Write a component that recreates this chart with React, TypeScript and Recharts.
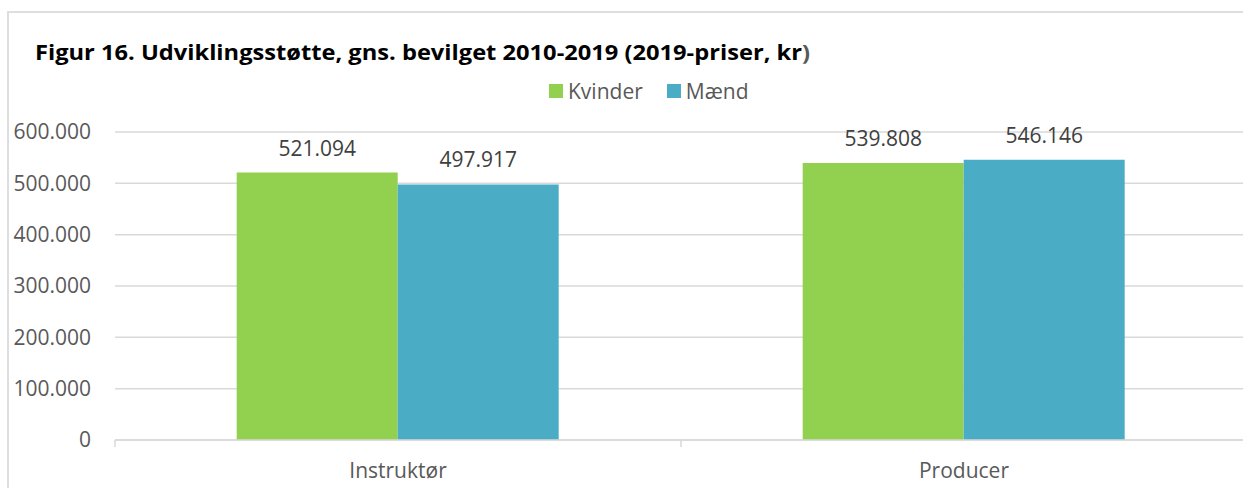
import React from "react";
import { BarChart, Bar, XAxis, YAxis, CartesianGrid, LabelList } from "recharts";

const categories = ["Instruktør", "Producer"];
const kvinder = [521094, 539808];
const maend = [497917, 546146];
const yTicks = [0, 100000, 200000, 300000, 400000, 500000, 600000];

const seriesNames = ["Kvinder", "Mænd"];
const seriesColors = ["#92D050", "#4BACC6"];

const data = categories.map((c, i) => ({ name: c, kvinder: kvinder[i], maend: maend[i] }));

const FONT = "'Open Sans', sans-serif";

const fmt = (v: any) => String(v).replace(/\B(?=(\d{3})+(?!\d))/g, ".");

function CatTick(props: any) {
  const { x, y, payload, width, visibleTicksCount, index } = props;
  const half = width && visibleTicksCount ? width / visibleTicksCount / 2 : payload.offset || 0;
  const lineY = y - 8;
  return (
    <g>
      <line x1={x - half} x2={x - half} y1={lineY} y2={lineY + 7} stroke="#d9d9d9" strokeWidth={1.5} />
      {index === visibleTicksCount - 1 && (
        <line x1={x + half} x2={x + half} y1={lineY} y2={lineY + 7} stroke="#d9d9d9" strokeWidth={1.5} />
      )}
      <text x={x} y={y + 30} textAnchor="middle" fill="#595959" fontSize={21} fontFamily={FONT}>
        {payload.value}
      </text>
    </g>
  );
}

export default function App() {
  return (
    <div
      style={{
        position: "absolute",
        left: 0,
        top: 0,
        width: 1243,
        height: 488,
        overflow: "hidden",
        background: "#fff",
        fontFamily: FONT,
      }}
    >
      <div
        style={{
          position: "absolute",
          left: 7,
          top: 11,
          width: 1300,
          height: 600,
          border: "2px solid #dedede",
        }}
      />
      <svg width={1243} height={80} style={{ position: "absolute", left: 0, top: 0 }}>
        <text
          x={35}
          y={60}
          fontSize={22}
          fontWeight={700}
          fontFamily={FONT}
          fill="#000"
          textLength={775}
          lengthAdjust="spacingAndGlyphs"
        >
          Figur 16. Udviklingsstøtte, gns. bevilget 2010-2019 (2019-priser, kr<tspan fill="#595959">)</tspan>
        </text>
      </svg>
      <div
        style={{
          position: "absolute",
          left: 549,
          top: 76,
          display: "flex",
          alignItems: "center",
          fontSize: 21,
          color: "#595959",
          lineHeight: "30px",
        }}
      >
        {seriesNames.map((n, i) => (
          <div key={n} style={{ display: "flex", alignItems: "center", marginRight: i === 0 ? 24 : 0 }}>
            <span style={{ width: 14, height: 14, background: seriesColors[i], display: "inline-block", marginRight: 5 }} />
            <span>{n}</span>
          </div>
        ))}
      </div>
      <div style={{ position: "absolute", left: 0, top: 0 }}>
        <BarChart
          width={1247}
          height={488}
          data={data}
          margin={{ top: 132, right: 0, bottom: 0, left: 0 }}
          barCategoryGap="21.5%"
          barGap={0}
        >
          <CartesianGrid vertical={false} stroke="#d9d9d9" strokeWidth={1.5} />
          <XAxis
            dataKey="name"
            height={48}
            axisLine={{ stroke: "#d9d9d9", strokeWidth: 1.5 }}
            tickLine={false}
            tick={<CatTick />}
            interval={0}
          />
          <YAxis
            width={115}
            domain={[0, 600000]}
            ticks={yTicks}
            axisLine={false}
            tickLine={false}
            tickMargin={18}
            tickFormatter={fmt}
            tick={{ fill: "#595959", fontSize: 21, fontFamily: FONT }}
          />
          <Bar dataKey="kvinder" fill={seriesColors[0]} isAnimationActive={false}>
            <LabelList dataKey="kvinder" position="top" offset={17} formatter={fmt} fill="#404040" fontSize={21} fontFamily={FONT} />
          </Bar>
          <Bar dataKey="maend" fill={seriesColors[1]} isAnimationActive={false}>
            <LabelList dataKey="maend" position="top" offset={17} formatter={fmt} fill="#404040" fontSize={21} fontFamily={FONT} />
          </Bar>
        </BarChart>
      </div>
    </div>
  );
}
